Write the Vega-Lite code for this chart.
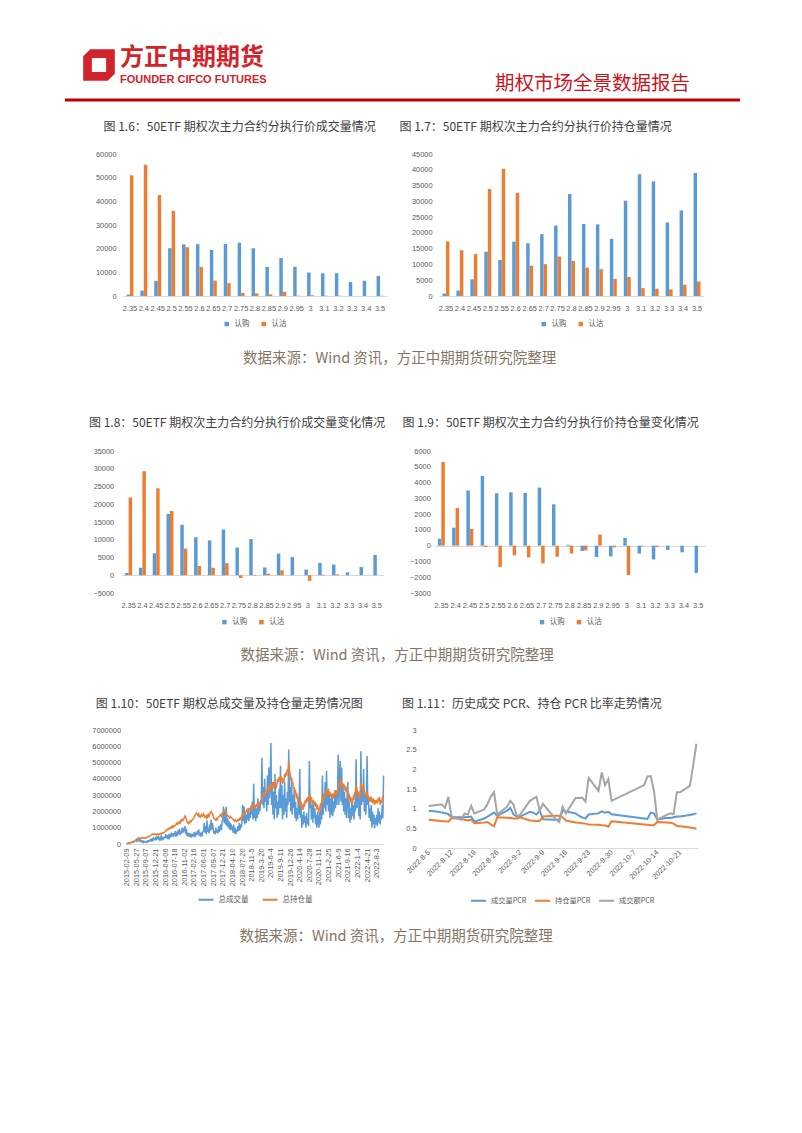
{
"$schema": "https://vega.github.io/schema/vega-lite/v6.json",
"background": "#ffffff",
"padding": {"left": 65, "top": 40, "right": 0, "bottom": 0},
"spacing": 19,
"center": true,
"resolve": {"scale": {"color": "independent"}, "legend": {"color": "independent"}},
"config": {
  "font": "Noto Sans CJK SC",
  "view": {"stroke": null},
  "axis": {"labelFont": "Liberation Sans, Noto Sans CJK SC", "labelFontSize": 7.4, "labelColor": "#595959", "ticks": false, "domain": false, "grid": false, "labelPadding": 7, "labelOverlap": false, "labelFlush": false},
  "legend": {"orient": "bottom", "direction": "horizontal", "title": null, "labelFont": "Noto Sans CJK SC", "labelFontSize": 7.5, "labelColor": "#595959", "columnPadding": 10, "offset": 9, "layout": {"bottom": {"anchor": "middle"}}},
  "title": {"font": "Noto Sans CJK SC", "fontSize": 12, "fontWeight": "normal", "color": "#404040", "anchor": "start"}
},
"vconcat": [
{
  "width": 675, "height": 62,
  "data": {"values": [{"a": "方正中期期货", "b": "FOUNDER CIFCO FUTURES", "c": "期权市场全景数据报告"}]},
  "layer": [
    {"mark": {"type": "rect", "x": "width", "x2": 697, "y": 0, "y2": 1, "opacity": 0}, "encoding": {}},
    {"mark": {"type": "rect", "x": 0, "x2": "width", "y": 58.5, "y2": 61.5, "color": "#C00000"}, "encoding": {}},
    {"mark": {"type": "point", "shape": "M-0.55,-1L1,-1L1,0.55L0.55,1L-1,1L-1,-0.55Z M-0.45,-0.45L-0.45,0.45L0.45,0.45L0.45,-0.45Z", "x": 34, "y": 25, "size": 1000, "filled": true, "color": "#D2232A", "opacity": 1, "strokeWidth": 0}, "encoding": {}},
    {"mark": {"type": "text", "x": 55, "y": 18, "align": "left", "baseline": "middle", "fontSize": 24, "fontWeight": "bold", "color": "#D2232A", "font": "Noto Sans CJK SC"}, "encoding": {"text": {"field": "a"}}},
    {"mark": {"type": "text", "x": 55, "y": 39.5, "align": "left", "baseline": "middle", "fontSize": 11, "fontWeight": "bold", "color": "#D2232A", "font": "Liberation Sans"}, "encoding": {"text": {"field": "b"}}},
    {"mark": {"type": "text", "x": 625, "y": 44, "align": "right", "baseline": "middle", "fontSize": 19.5, "color": "#C8161D", "font": "Noto Sans CJK SC"}, "encoding": {"text": {"field": "c"}}}
  ]
},
{
  "spacing": 12,
  "resolve": {"scale": {"color": "independent"}, "legend": {"color": "independent"}},
  "title": {"text": "数据来源：Wind 资讯，方正中期期货研究院整理", "orient": "bottom", "anchor": "middle", "offset": 23.5, "fontSize": 14.5, "color": "#857564"},
  "hconcat": [
  {
    "title": {"text": "图 1.6：50ETF 期权次主力合约分执行价成交量情况", "dx": 8, "offset": 16},
    "width": 264, "height": 142,
    "data": {"values": [
      {"k":"2.35","认购":600,"认沽":51000},{"k":"2.4","认购":2300,"认沽":55500},{"k":"2.45","认购":6400,"认沽":42700},{"k":"2.5","认购":20200,"认沽":36000},{"k":"2.55","认购":21800,"认沽":20600},{"k":"2.6","认购":21900,"认沽":12300},{"k":"2.65","认购":19500,"认沽":6500},{"k":"2.7","认购":22000,"认沽":5400},{"k":"2.75","认购":22500,"认沽":1300},{"k":"2.8","认购":20200,"认沽":1100},{"k":"2.85","认购":12300,"认沽":700},{"k":"2.9","认购":16000,"认沽":1800},{"k":"2.95","认购":12300,"认沽":100},{"k":"3","认购":9900,"认沽":300},{"k":"3.1","认购":9600,"认沽":100},{"k":"3.2","认购":9600,"认沽":100},{"k":"3.3","认购":5900,"认沽":30},{"k":"3.4","认购":6400,"认沽":30},{"k":"3.5","认购":8500,"认沽":100}
    ]},
    "transform": [{"fold": ["认购","认沽"], "as": ["s","v"]}],
    "mark": {"type": "bar"},
    "encoding": {
      "x": {"field": "k", "type": "ordinal", "sort": null, "scale": {"paddingInner": 0.5, "paddingOuter": 0.25}, "axis": {"title": null, "labelAngle": 0, "domain": true, "domainColor": "#d9d9d9", "labelPadding": 8}},
      "xOffset": {"field": "s", "type": "nominal", "sort": ["认购","认沽"]},
      "y": {"field": "v", "type": "quantitative", "scale": {"domain": [0,60000]}, "axis": {"title": null, "values": [0,10000,20000,30000,40000,50000,60000], "format": "d", "labelPadding": 7}},
      "color": {"field": "s", "type": "nominal", "scale": {"domain": ["认购","认沽"], "range": ["#5B9BD5","#ED7D31"]}, "legend": {"symbolType": "square", "symbolSize": 20, "symbolStrokeWidth": 0, "offset": 8}}
    }
  },
  {
    "title": {"text": "图 1.7：50ETF 期权次主力合约分执行价持仓量情况", "dx": -12, "offset": 16},
    "width": 265, "height": 142,
    "data": {"values": [
      {"k":"2.35","认购":800,"认沽":17300},{"k":"2.4","认购":1700,"认沽":14500},{"k":"2.45","认购":5300,"认沽":13300},{"k":"2.5","认购":14000,"认沽":33900},{"k":"2.55","认购":11400,"认沽":40300},{"k":"2.6","认购":17200,"认沽":32700},{"k":"2.65","认购":16700,"认沽":9600},{"k":"2.7","认购":19600,"认沽":10100},{"k":"2.75","认购":22300,"认沽":12500},{"k":"2.8","认购":32300,"认沽":11100},{"k":"2.85","认购":22800,"认沽":9000},{"k":"2.9","认购":22700,"认沽":8500},{"k":"2.95","认购":18100,"认沽":5400},{"k":"3","认购":30200,"认沽":6000},{"k":"3.1","认购":38600,"认沽":2500},{"k":"3.2","认购":36300,"认沽":2300},{"k":"3.3","认购":23300,"认沽":2100},{"k":"3.4","认购":27100,"认沽":3600},{"k":"3.5","认购":39000,"认沽":4600}
    ]},
    "transform": [{"fold": ["认购","认沽"], "as": ["s","v"]}],
    "mark": {"type": "bar"},
    "encoding": {
      "x": {"field": "k", "type": "ordinal", "sort": null, "scale": {"paddingInner": 0.5, "paddingOuter": 0.25}, "axis": {"title": null, "labelAngle": 0, "domain": true, "domainColor": "#d9d9d9", "labelPadding": 8}},
      "xOffset": {"field": "s", "type": "nominal", "sort": ["认购","认沽"]},
      "y": {"field": "v", "type": "quantitative", "scale": {"domain": [0,45000]}, "axis": {"title": null, "values": [0,5000,10000,15000,20000,25000,30000,35000,40000,45000], "format": "d", "labelPadding": 7}},
      "color": {"field": "s", "type": "nominal", "scale": {"domain": ["认购","认沽"], "range": ["#5B9BD5","#ED7D31"]}, "legend": {"symbolType": "square", "symbolSize": 20, "symbolStrokeWidth": 0, "offset": 8}}
    }
  }
  ]
},
{
  "spacing": 16.6,
  "resolve": {"scale": {"color": "independent"}, "legend": {"color": "independent"}},
  "title": {"text": "数据来源：Wind 资讯，方正中期期货研究院整理", "orient": "bottom", "anchor": "middle", "offset": 23, "fontSize": 14.5, "color": "#857564"},
  "hconcat": [
  {
    "title": {"text": ["", "图 1.8：50ETF 期权次主力合约分执行价成交量变化情况"], "lineHeight": 32.5, "dx": -4, "offset": 17},
    "width": 262, "height": 142,
    "data": {"values": [
      {"k":"2.35","认购":600,"认沽":21900},{"k":"2.4","认购":2100,"认沽":29300},{"k":"2.45","认购":6200,"认沽":24500},{"k":"2.5","认购":17300,"认沽":18100},{"k":"2.55","认购":14200,"认沽":7500},{"k":"2.6","认购":10700,"认沽":2600},{"k":"2.65","认购":9800,"认沽":2100},{"k":"2.7","认购":12900,"认沽":3400},{"k":"2.75","认购":7800,"认沽":-800},{"k":"2.8","认购":10200,"认沽":-150},{"k":"2.85","认购":2200,"认沽":450},{"k":"2.9","认购":6100,"认沽":1400},{"k":"2.95","认购":5100,"认沽":0},{"k":"3","认购":1600,"认沽":-1600},{"k":"3.1","认购":3500,"认沽":150},{"k":"3.2","认购":3000,"认沽":250},{"k":"3.3","认购":800,"认沽":0},{"k":"3.4","认购":2300,"认沽":0},{"k":"3.5","认购":5700,"认沽":0}
    ]},
    "transform": [{"fold": ["认购","认沽"], "as": ["s","v"]}],
    "mark": {"type": "bar"},
    "encoding": {
      "x": {"field": "k", "type": "ordinal", "sort": null, "scale": {"paddingInner": 0.5, "paddingOuter": 0.25}, "axis": {"title": null, "labelAngle": 0, "labelPadding": 8}},
      "xOffset": {"field": "s", "type": "nominal", "sort": ["认购","认沽"]},
      "y": {"field": "v", "type": "quantitative", "scale": {"domain": [-5000,35000]}, "axis": {"title": null, "values": [-5000,0,5000,10000,15000,20000,25000,30000,35000], "format": "d", "labelPadding": 8, "grid": true, "gridColor": "#d9d9d9", "gridOpacity": {"condition": {"test": "datum.value === 0", "value": 1}, "value": 0}}},
      "color": {"field": "s", "type": "nominal", "scale": {"domain": ["认购","认沽"], "range": ["#5B9BD5","#ED7D31"]}, "legend": {"symbolType": "square", "symbolSize": 20, "symbolStrokeWidth": 0}}
    }
  },
  {
    "title": {"text": ["", "图 1.9：50ETF 期权次主力合约分执行价持仓量变化情况"], "lineHeight": 32.5, "dx": -7, "offset": 17},
    "width": 271, "height": 142,
    "data": {"values": [
      {"k":"2.35","认购":440,"认沽":5300},{"k":"2.4","认购":1140,"认沽":2390},{"k":"2.45","认购":3500,"认沽":1060},{"k":"2.5","认购":4420,"认沽":-80},{"k":"2.55","认购":3320,"认沽":-1350},{"k":"2.6","认购":3380,"认沽":-610},{"k":"2.65","认购":3340,"认沽":-740},{"k":"2.7","认购":3680,"认沽":-1120},{"k":"2.75","认购":2620,"认沽":-700},{"k":"2.8","认购":60,"认沽":-500},{"k":"2.85","认购":-340,"认沽":-300},{"k":"2.9","认购":-720,"认沽":700},{"k":"2.95","认购":-680,"认沽":-100},{"k":"3","认购":500,"认沽":-1860},{"k":"3.1","认购":-500,"认沽":-30},{"k":"3.2","认购":-870,"认沽":-80},{"k":"3.3","认购":-270,"认沽":0},{"k":"3.4","认购":-420,"认沽":0},{"k":"3.5","认购":-1730,"认沽":0}
    ]},
    "transform": [{"fold": ["认购","认沽"], "as": ["s","v"]}],
    "mark": {"type": "bar"},
    "encoding": {
      "x": {"field": "k", "type": "ordinal", "sort": null, "scale": {"paddingInner": 0.5, "paddingOuter": 0.25}, "axis": {"title": null, "labelAngle": 0, "labelPadding": 8}},
      "xOffset": {"field": "s", "type": "nominal", "sort": ["认购","认沽"]},
      "y": {"field": "v", "type": "quantitative", "scale": {"domain": [-3000,6000]}, "axis": {"title": null, "values": [-3000,-2000,-1000,0,1000,2000,3000,4000,5000,6000], "format": "d", "labelPadding": 4, "grid": true, "gridColor": "#d9d9d9", "gridOpacity": {"condition": {"test": "datum.value === 0", "value": 1}, "value": 0}}},
      "color": {"field": "s", "type": "nominal", "scale": {"domain": ["认购","认沽"], "range": ["#5B9BD5","#ED7D31"]}, "legend": {"symbolType": "square", "symbolSize": 20, "symbolStrokeWidth": 0}}
    }
  }
  ]
},
{
  "spacing": 14.5,
  "resolve": {"scale": {"color": "independent"}, "legend": {"color": "independent"}},
  "title": {"text": "数据来源：Wind 资讯，方正中期期货研究院整理", "orient": "bottom", "anchor": "middle", "offset": 25, "fontSize": 14.5, "color": "#857564"},
  "hconcat": [
  {
    "title": {"text": ["", "图 1.10：50ETF 期权总成交量及持仓量走势情况图"], "lineHeight": 16, "dx": 4, "offset": 15},
    "width": 257, "height": 114,
    "data": {"values": [
{"i":0,"v":0.02,"o":0.01},{"i":1,"v":0.03,"o":0.02},{"i":2,"v":0.05,"o":0.03},{"i":3,"v":0.04,"o":0.05},{"i":4,"v":0.07,"o":0.06},{"i":5,"v":0.06,"o":0.07},{"i":6,"v":0.09,"o":0.09},{"i":7,"v":0.08,"o":0.1},{"i":8,"v":0.12,"o":0.12},{"i":9,"v":0.1,"o":0.13},{"i":10,"v":0.15,"o":0.15},{"i":11,"v":0.12,"o":0.16},{"i":12,"v":0.18,"o":0.18},{"i":13,"v":0.2,"o":0.2},
{"i":14,"v":0.28,"o":0.22},{"i":15,"v":0.18,"o":0.24},{"i":16,"v":0.3,"o":0.27},{"i":17,"v":0.22,"o":0.25},{"i":18,"v":0.35,"o":0.3},{"i":19,"v":0.2,"o":0.33},{"i":20,"v":0.25,"o":0.36},{"i":21,"v":0.15,"o":0.34},{"i":22,"v":0.2,"o":0.38},{"i":23,"v":0.12,"o":0.4},{"i":24,"v":0.18,"o":0.36},{"i":25,"v":0.1,"o":0.38},{"i":26,"v":0.15,"o":0.35},{"i":27,"v":0.12,"o":0.37},
{"i":28,"v":0.1,"o":0.36},{"i":29,"v":0.16,"o":0.4},{"i":30,"v":0.12,"o":0.42},{"i":31,"v":0.2,"o":0.45},{"i":32,"v":0.15,"o":0.43},{"i":33,"v":0.22,"o":0.48},{"i":34,"v":0.18,"o":0.5},{"i":35,"v":0.26,"o":0.53},{"i":36,"v":0.2,"o":0.55},{"i":37,"v":0.3,"o":0.6},{"i":38,"v":0.22,"o":0.62},{"i":39,"v":0.35,"o":0.58},{"i":40,"v":0.25,"o":0.6},{"i":41,"v":0.3,"o":0.62},
{"i":42,"v":0.38,"o":0.6},{"i":43,"v":0.22,"o":0.55},{"i":44,"v":0.45,"o":0.58},{"i":45,"v":0.28,"o":0.62},{"i":46,"v":0.5,"o":0.6},{"i":47,"v":0.3,"o":0.57},{"i":48,"v":0.25,"o":0.62},{"i":49,"v":0.4,"o":0.65},{"i":50,"v":0.28,"o":0.6},{"i":51,"v":0.45,"o":0.64},{"i":52,"v":0.3,"o":0.68},{"i":53,"v":0.38,"o":0.66},{"i":54,"v":0.32,"o":0.7},{"i":55,"v":0.42,"o":0.72},
{"i":56,"v":0.42,"o":0.75},{"i":57,"v":0.6,"o":0.8},{"i":58,"v":0.35,"o":0.85},{"i":59,"v":0.55,"o":0.9},{"i":60,"v":0.3,"o":0.88},{"i":61,"v":0.5,"o":0.95},{"i":62,"v":0.38,"o":0.92},{"i":63,"v":0.62,"o":1.0},{"i":64,"v":0.4,"o":0.98},{"i":65,"v":0.7,"o":1.05},{"i":66,"v":0.45,"o":1.0},{"i":67,"v":0.65,"o":1.1},{"i":68,"v":0.5,"o":1.05},{"i":69,"v":0.6,"o":1.12},
{"i":70,"v":0.55,"o":1.1},{"i":71,"v":0.8,"o":1.15},{"i":72,"v":0.45,"o":1.2},{"i":73,"v":0.75,"o":1.28},{"i":74,"v":0.5,"o":1.22},{"i":75,"v":0.85,"o":1.3},{"i":76,"v":0.6,"o":1.25},{"i":77,"v":0.95,"o":1.35},{"i":78,"v":0.55,"o":1.3},{"i":79,"v":0.8,"o":1.45},{"i":80,"v":0.65,"o":1.4},{"i":81,"v":1.0,"o":1.5},{"i":82,"v":0.7,"o":1.45},{"i":83,"v":0.9,"o":1.55},
{"i":84,"v":0.85,"o":1.6},{"i":85,"v":1.1,"o":1.72},{"i":86,"v":0.6,"o":1.65},{"i":87,"v":0.95,"o":1.5},{"i":88,"v":0.5,"o":1.35},{"i":89,"v":0.7,"o":1.3},{"i":90,"v":0.45,"o":1.25},{"i":91,"v":0.6,"o":1.35},{"i":92,"v":0.5,"o":1.3},{"i":93,"v":0.65,"o":1.42},{"i":94,"v":0.4,"o":1.38},{"i":95,"v":0.55,"o":1.45},{"i":96,"v":0.5,"o":1.5},{"i":97,"v":0.6,"o":1.55},
{"i":98,"v":0.5,"o":1.6},{"i":99,"v":0.75,"o":1.7},{"i":100,"v":0.45,"o":1.8},{"i":101,"v":0.7,"o":1.85},{"i":102,"v":0.55,"o":1.9},{"i":103,"v":0.8,"o":1.82},{"i":104,"v":0.6,"o":1.75},{"i":105,"v":0.9,"o":1.85},{"i":106,"v":0.5,"o":1.7},{"i":107,"v":0.7,"o":1.65},{"i":108,"v":0.45,"o":1.72},{"i":109,"v":0.65,"o":1.8},{"i":110,"v":0.55,"o":1.7},{"i":111,"v":0.75,"o":1.75},
{"i":112,"v":0.8,"o":1.85},{"i":113,"v":1.3,"o":1.75},{"i":114,"v":0.7,"o":1.65},{"i":115,"v":1.1,"o":1.7},{"i":116,"v":0.6,"o":1.6},{"i":117,"v":1.45,"o":1.75},{"i":118,"v":0.75,"o":1.65},{"i":119,"v":1.0,"o":1.8},{"i":120,"v":0.65,"o":1.7},{"i":121,"v":1.2,"o":1.85},{"i":122,"v":0.8,"o":1.9},{"i":123,"v":1.5,"o":2.0},{"i":124,"v":0.9,"o":1.9},{"i":125,"v":1.3,"o":1.85},
{"i":126,"v":0.9,"o":1.7},{"i":127,"v":0.65,"o":1.6},{"i":128,"v":0.8,"o":1.55},{"i":129,"v":0.6,"o":1.5},{"i":130,"v":1.0,"o":1.45},{"i":131,"v":0.7,"o":1.55},{"i":132,"v":0.85,"o":1.5},{"i":133,"v":0.65,"o":1.6},{"i":134,"v":1.1,"o":1.65},{"i":135,"v":0.75,"o":1.7},{"i":136,"v":0.9,"o":1.75},{"i":137,"v":1.2,"o":1.8},{"i":138,"v":0.85,"o":1.7},{"i":139,"v":1.4,"o":1.85},
{"i":140,"v":1.5,"o":1.9},{"i":141,"v":2.3,"o":2.0},{"i":142,"v":1.3,"o":1.95},{"i":143,"v":1.9,"o":2.05},{"i":144,"v":1.2,"o":1.9},{"i":145,"v":2.3,"o":1.85},{"i":146,"v":1.1,"o":1.8},{"i":147,"v":1.6,"o":1.75},{"i":148,"v":1.0,"o":1.7},{"i":149,"v":1.4,"o":1.65},{"i":150,"v":0.9,"o":1.6},{"i":151,"v":1.3,"o":1.7},{"i":152,"v":0.85,"o":1.65},{"i":153,"v":1.1,"o":1.6},
{"i":154,"v":1.0,"o":1.55},{"i":155,"v":0.7,"o":1.5},{"i":156,"v":1.2,"o":1.45},{"i":157,"v":0.65,"o":1.4},{"i":158,"v":1.0,"o":1.5},{"i":159,"v":0.6,"o":1.45},{"i":160,"v":0.9,"o":1.38},{"i":161,"v":0.75,"o":1.4},{"i":162,"v":1.1,"o":1.5},{"i":163,"v":0.8,"o":1.45},{"i":164,"v":1.3,"o":1.55},{"i":165,"v":0.85,"o":1.5},{"i":166,"v":1.2,"o":1.6},{"i":167,"v":1.0,"o":1.55},
{"i":168,"v":1.5,"o":1.65},{"i":169,"v":2.4,"o":1.8},{"i":170,"v":1.4,"o":1.75},{"i":171,"v":2.3,"o":1.9},{"i":172,"v":1.2,"o":1.85},{"i":173,"v":2.0,"o":1.95},{"i":174,"v":1.3,"o":2.0},{"i":175,"v":1.8,"o":2.1},{"i":176,"v":1.5,"o":1.95},{"i":177,"v":2.2,"o":2.05},{"i":178,"v":1.4,"o":2.15},{"i":179,"v":2.0,"o":2.1},{"i":180,"v":1.6,"o":2.2},{"i":181,"v":2.3,"o":2.3},
{"i":182,"v":1.8,"o":2.2},{"i":183,"v":2.6,"o":2.3},{"i":184,"v":1.5,"o":2.15},{"i":185,"v":3.7,"o":2.4},{"i":186,"v":1.6,"o":2.3},{"i":187,"v":2.4,"o":2.25},{"i":188,"v":1.4,"o":2.35},{"i":189,"v":2.2,"o":2.4},{"i":190,"v":1.6,"o":2.3},{"i":191,"v":2.8,"o":2.45},{"i":192,"v":1.8,"o":2.5},{"i":193,"v":2.5,"o":2.4},{"i":194,"v":2.0,"o":2.55},{"i":195,"v":2.7,"o":2.6},
{"i":196,"v":2.5,"o":2.6},{"i":197,"v":5.3,"o":2.8},{"i":198,"v":2.4,"o":2.95},{"i":199,"v":3.5,"o":3.1},{"i":200,"v":2.2,"o":3.0},{"i":201,"v":4.0,"o":3.2},{"i":202,"v":2.6,"o":3.05},{"i":203,"v":3.2,"o":3.3},{"i":204,"v":2.0,"o":3.15},{"i":205,"v":4.2,"o":3.4},{"i":206,"v":2.4,"o":3.3},{"i":207,"v":4.7,"o":3.55},{"i":208,"v":2.8,"o":3.4},{"i":209,"v":3.6,"o":3.5},
{"i":210,"v":6.2,"o":3.6},{"i":211,"v":2.4,"o":3.3},{"i":212,"v":3.8,"o":3.7},{"i":213,"v":1.8,"o":3.4},{"i":214,"v":3.2,"o":3.8},{"i":215,"v":1.5,"o":3.5},{"i":216,"v":4.3,"o":3.9},{"i":217,"v":2.2,"o":3.6},{"i":218,"v":3.0,"o":3.5},{"i":219,"v":1.6,"o":3.7},{"i":220,"v":2.6,"o":4.0},{"i":221,"v":1.8,"o":3.8},{"i":222,"v":3.4,"o":4.1},{"i":223,"v":2.2,"o":3.9},
{"i":224,"v":4.8,"o":4.2},{"i":225,"v":2.2,"o":3.9},{"i":226,"v":3.6,"o":4.1},{"i":227,"v":1.5,"o":3.7},{"i":228,"v":3.0,"o":4.0},{"i":229,"v":1.8,"o":3.8},{"i":230,"v":3.8,"o":4.3},{"i":231,"v":2.0,"o":4.1},{"i":232,"v":2.8,"o":4.4},{"i":233,"v":1.6,"o":4.2},{"i":234,"v":3.2,"o":4.6},{"i":235,"v":2.4,"o":4.4},{"i":236,"v":5.8,"o":5.1},{"i":237,"v":2.6,"o":4.5},
{"i":238,"v":3.5,"o":4.3},{"i":239,"v":2.0,"o":4.0},{"i":240,"v":4.0,"o":4.1},{"i":241,"v":1.8,"o":3.7},{"i":242,"v":3.0,"o":3.8},{"i":243,"v":2.2,"o":3.4},{"i":244,"v":3.4,"o":3.5},{"i":245,"v":1.6,"o":3.1},{"i":246,"v":2.6,"o":3.2},{"i":247,"v":1.4,"o":2.9},{"i":248,"v":2.2,"o":3.0},{"i":249,"v":1.5,"o":2.7},{"i":250,"v":2.8,"o":2.8},{"i":251,"v":1.8,"o":2.6},
{"i":252,"v":4.6,"o":2.5},{"i":253,"v":1.6,"o":2.3},{"i":254,"v":2.4,"o":2.6},{"i":255,"v":1.0,"o":2.2},{"i":256,"v":1.8,"o":2.4},{"i":257,"v":1.2,"o":2.1},{"i":258,"v":2.0,"o":2.5},{"i":259,"v":1.3,"o":2.3},{"i":260,"v":1.7,"o":2.7},{"i":261,"v":1.0,"o":2.5},{"i":262,"v":1.9,"o":2.8},{"i":263,"v":1.2,"o":2.6},{"i":264,"v":1.6,"o":2.9},{"i":265,"v":1.1,"o":2.7},
{"i":266,"v":5.1,"o":2.8},{"i":267,"v":2.2,"o":3.0},{"i":268,"v":2.8,"o":2.7},{"i":269,"v":1.5,"o":2.9},{"i":270,"v":2.4,"o":2.6},{"i":271,"v":1.3,"o":2.5},{"i":272,"v":2.6,"o":2.7},{"i":273,"v":1.6,"o":2.4},{"i":274,"v":2.2,"o":2.6},{"i":275,"v":1.2,"o":2.3},{"i":276,"v":1.8,"o":2.5},{"i":277,"v":1.0,"o":2.2},{"i":278,"v":2.0,"o":2.3},{"i":279,"v":1.4,"o":2.1},
{"i":280,"v":1.0,"o":2.0},{"i":281,"v":2.0,"o":2.2},{"i":282,"v":1.2,"o":2.4},{"i":283,"v":2.4,"o":2.3},{"i":284,"v":1.5,"o":2.6},{"i":285,"v":4.2,"o":2.8},{"i":286,"v":1.8,"o":2.7},{"i":287,"v":3.0,"o":3.0},{"i":288,"v":2.2,"o":2.9},{"i":289,"v":3.8,"o":3.2},{"i":290,"v":2.0,"o":3.0},{"i":291,"v":4.5,"o":3.3},{"i":292,"v":2.4,"o":3.1},{"i":293,"v":3.2,"o":3.2},
{"i":294,"v":2.0,"o":3.3},{"i":295,"v":3.2,"o":3.0},{"i":296,"v":1.6,"o":3.2},{"i":297,"v":2.8,"o":2.9},{"i":298,"v":1.8,"o":3.1},{"i":299,"v":3.0,"o":2.8},{"i":300,"v":1.7,"o":3.0},{"i":301,"v":2.6,"o":2.9},{"i":302,"v":2.0,"o":3.1},{"i":303,"v":3.3,"o":3.2},{"i":304,"v":2.2,"o":3.0},{"i":305,"v":3.0,"o":3.3},{"i":306,"v":2.4,"o":3.1},{"i":307,"v":3.1,"o":3.2},
{"i":308,"v":5.5,"o":3.4},{"i":309,"v":2.4,"o":3.6},{"i":310,"v":3.8,"o":3.8},{"i":311,"v":5.1,"o":3.9},{"i":312,"v":2.6,"o":3.7},{"i":313,"v":4.7,"o":3.8},{"i":314,"v":2.4,"o":3.6},{"i":315,"v":3.6,"o":3.5},{"i":316,"v":2.0,"o":3.7},{"i":317,"v":3.2,"o":3.4},{"i":318,"v":1.8,"o":3.5},{"i":319,"v":2.8,"o":3.3},{"i":320,"v":1.6,"o":3.4},{"i":321,"v":3.0,"o":3.2},
{"i":322,"v":3.8,"o":3.1},{"i":323,"v":1.6,"o":2.9},{"i":324,"v":2.6,"o":3.0},{"i":325,"v":1.3,"o":2.7},{"i":326,"v":2.2,"o":2.8},{"i":327,"v":1.5,"o":2.5},{"i":328,"v":2.8,"o":2.7},{"i":329,"v":1.7,"o":2.6},{"i":330,"v":2.4,"o":2.9},{"i":331,"v":1.5,"o":2.8},{"i":332,"v":2.6,"o":3.1},{"i":333,"v":2.0,"o":3.2},{"i":334,"v":5.2,"o":3.6},{"i":335,"v":2.2,"o":3.4},
{"i":336,"v":2.4,"o":3.2},{"i":337,"v":3.2,"o":3.0},{"i":338,"v":1.7,"o":3.1},{"i":339,"v":2.8,"o":2.8},{"i":340,"v":1.5,"o":3.0},{"i":341,"v":5.7,"o":3.8},{"i":342,"v":2.4,"o":3.4},{"i":343,"v":3.4,"o":3.6},{"i":344,"v":2.6,"o":3.3},{"i":345,"v":4.6,"o":3.5},{"i":346,"v":2.0,"o":3.2},{"i":347,"v":3.0,"o":3.1},{"i":348,"v":1.8,"o":2.9},{"i":349,"v":2.6,"o":3.0},
{"i":350,"v":5.4,"o":3.2},{"i":351,"v":2.4,"o":3.0},{"i":352,"v":2.8,"o":2.9},{"i":353,"v":1.6,"o":2.7},{"i":354,"v":2.2,"o":2.8},{"i":355,"v":1.4,"o":2.6},{"i":356,"v":2.4,"o":2.9},{"i":357,"v":1.0,"o":2.7},{"i":358,"v":2.0,"o":2.5},{"i":359,"v":1.2,"o":2.8},{"i":360,"v":1.8,"o":2.6},{"i":361,"v":0.95,"o":2.4},{"i":362,"v":1.6,"o":2.7},{"i":363,"v":1.2,"o":2.5},
{"i":364,"v":1.8,"o":2.7},{"i":365,"v":1.1,"o":2.5},{"i":366,"v":2.2,"o":2.8},{"i":367,"v":1.3,"o":2.6},{"i":368,"v":2.0,"o":2.9},{"i":369,"v":1.2,"o":2.4},{"i":370,"v":1.8,"o":2.7},{"i":371,"v":1.5,"o":2.5},{"i":372,"v":2.4,"o":2.8},{"i":373,"v":1.6,"o":2.9},{"i":374,"v":4.2,"o":3.0}
    ]},
    "transform": [{"fold": ["v","o"], "as": ["s","val"]}],
    "mark": {"type": "line", "strokeWidth": 1.5},
    "encoding": {
      "x": {"field": "i", "type": "quantitative", "scale": {"domain": [0,374], "nice": false, "zero": false}, "axis": {"title": null, "values": [0,14,28,42,56,70,84,98,112,126,140,154,168,182,196,210,224,238,252,266,280,294,308,322,336,350,364], "labelExpr": "['2015-02-09','2015-05-27','2015-09-07','2015-12-21','2016-04-06','2016-07-18','2016-11-02','2017-02-16','2017-06-01','2017-09-07','2017-12-21','2018-04-10','2018-07-20','2018-11-5','2019-3-20','2019-6-4','2019-9-11','2019-12-26','2020-4-14','2020-7-28','2020-11-11','2021-2-25','2021-6-9','2021-9-16','2022-1-4','2022-4-21','2022-8-3'][round(datum.value/14)]", "labelAngle": -90, "labelAlign": "right", "labelBaseline": "middle", "domain": true, "domainColor": "#d9d9d9", "labelPadding": 4}},
      "y": {"field": "val", "type": "quantitative", "scale": {"domain": [0,7]}, "axis": {"title": null, "values": [0,1,2,3,4,5,6,7], "labelExpr": "format(datum.value*1000000,'d')", "labelPadding": 6}},
      "color": {"field": "s", "type": "nominal", "sort": ["v","o"], "scale": {"domain": ["v","o"], "range": ["#5B9BD5","#ED7D31"]}, "legend": {"symbolType": "stroke", "symbolSize": 225, "symbolStrokeWidth": 2, "offset": 5, "labelExpr": "datum.label == 'v' ? '总成交量' : '总持仓量'"}}
    }
  },
  {
    "title": {"text": ["", "图 1.11：历史成交 PCR、持仓 PCR 比率走势情况"], "lineHeight": 16, "dx": -3, "offset": 15},
    "width": 271, "height": 118,
    "data": {"values": [
{"d":"2022-08-05","a":0.95,"b":0.72,"c":1.07},{"d":"2022-08-08","a":0.92,"b":0.69,"c":1.1},{"d":"2022-08-09","a":0.9,"b":0.68,"c":1.11},{"d":"2022-08-10","a":0.89,"b":0.68,"c":1.02},{"d":"2022-08-11","a":0.86,"b":0.67,"c":1.3},{"d":"2022-08-12","a":0.78,"b":0.76,"c":0.8},
{"d":"2022-08-15","a":0.78,"b":0.74,"c":0.72},{"d":"2022-08-16","a":0.78,"b":0.72,"c":0.88},{"d":"2022-08-17","a":0.79,"b":0.7,"c":0.85},{"d":"2022-08-18","a":0.8,"b":0.72,"c":1.07},{"d":"2022-08-19","a":0.67,"b":0.63,"c":0.88},
{"d":"2022-08-22","a":0.75,"b":0.65,"c":0.98},{"d":"2022-08-23","a":0.8,"b":0.66,"c":1.12},{"d":"2022-08-24","a":0.85,"b":0.6,"c":1.3},{"d":"2022-08-25","a":0.9,"b":0.55,"c":1.42},{"d":"2022-08-26","a":0.82,"b":0.78,"c":0.85},
{"d":"2022-08-29","a":0.95,"b":0.77,"c":1.05},{"d":"2022-08-30","a":1.02,"b":0.76,"c":1.2},{"d":"2022-08-31","a":0.85,"b":0.75,"c":1.1},{"d":"2022-09-01","a":0.8,"b":0.75,"c":0.8},{"d":"2022-09-02","a":0.8,"b":0.78,"c":0.85},
{"d":"2022-09-05","a":0.92,"b":0.7,"c":1.2},{"d":"2022-09-06","a":0.9,"b":0.69,"c":1.25},{"d":"2022-09-07","a":0.85,"b":0.68,"c":1.3},{"d":"2022-09-08","a":0.95,"b":0.69,"c":0.95},{"d":"2022-09-09","a":0.73,"b":0.8,"c":1.12},
{"d":"2022-09-13","a":0.72,"b":0.82,"c":0.72},{"d":"2022-09-14","a":0.72,"b":0.82,"c":0.66},{"d":"2022-09-15","a":0.95,"b":0.78,"c":1.05},{"d":"2022-09-16","a":0.93,"b":0.7,"c":0.88},
{"d":"2022-09-19","a":0.88,"b":0.65,"c":1.27},{"d":"2022-09-20","a":0.82,"b":0.64,"c":1.27},{"d":"2022-09-21","a":0.78,"b":0.63,"c":1.28},{"d":"2022-09-22","a":0.75,"b":0.62,"c":1.18},{"d":"2022-09-23","a":0.85,"b":0.6,"c":1.78},
{"d":"2022-09-26","a":0.88,"b":0.59,"c":1.45},{"d":"2022-09-27","a":0.93,"b":0.58,"c":1.92},{"d":"2022-09-28","a":0.9,"b":0.57,"c":1.6},{"d":"2022-09-29","a":0.92,"b":0.54,"c":1.75},{"d":"2022-09-30","a":0.86,"b":0.68,"c":1.2},
{"d":"2022-10-10","a":0.75,"b":0.6,"c":1.6},{"d":"2022-10-11","a":0.74,"b":0.59,"c":1.82},{"d":"2022-10-12","a":0.9,"b":0.58,"c":1.83},{"d":"2022-10-13","a":0.88,"b":0.58,"c":1.45},{"d":"2022-10-14","a":0.72,"b":0.66,"c":0.72},
{"d":"2022-10-17","a":0.77,"b":0.65,"c":0.85},{"d":"2022-10-18","a":0.76,"b":0.64,"c":0.88},{"d":"2022-10-19","a":0.78,"b":0.62,"c":0.86},{"d":"2022-10-20","a":0.8,"b":0.56,"c":1.42},{"d":"2022-10-21","a":0.8,"b":0.55,"c":1.42},
{"d":"2022-10-24","a":0.84,"b":0.52,"c":1.58},{"d":"2022-10-25","a":0.86,"b":0.51,"c":2.1},{"d":"2022-10-26","a":0.88,"b":0.49,"c":2.65}
    ]},
    "transform": [{"fold": ["a","b","c"], "as": ["s","val"]}],
    "mark": {"type": "line", "strokeWidth": 2},
    "encoding": {
      "x": {"field": "d", "type": "temporal", "scale": {"type": "utc", "domain": [{"year":2022,"month":8,"date":4,"hours":12,"utc":true},{"year":2022,"month":10,"date":26,"hours":12,"utc":true}]}, "axis": {"title": null, "values": [{"year":2022,"month":8,"date":5,"utc":true},{"year":2022,"month":8,"date":12,"utc":true},{"year":2022,"month":8,"date":19,"utc":true},{"year":2022,"month":8,"date":26,"utc":true},{"year":2022,"month":9,"date":2,"utc":true},{"year":2022,"month":9,"date":9,"utc":true},{"year":2022,"month":9,"date":16,"utc":true},{"year":2022,"month":9,"date":23,"utc":true},{"year":2022,"month":9,"date":30,"utc":true},{"year":2022,"month":10,"date":7,"utc":true},{"year":2022,"month":10,"date":14,"utc":true},{"year":2022,"month":10,"date":21,"utc":true}], "labelExpr": "utcFormat(datum.value, '%Y-%-m-%-d')", "labelAngle": -45, "labelAlign": "right", "labelBaseline": "middle", "domain": true, "domainColor": "#d9d9d9", "labelPadding": 3}},
      "y": {"field": "val", "type": "quantitative", "scale": {"domain": [0,3]}, "axis": {"title": null, "values": [0,0.5,1,1.5,2,2.5,3], "format": "~g", "labelPadding": 11}},
      "color": {"field": "s", "type": "nominal", "sort": ["a","b","c"], "scale": {"domain": ["a","b","c"], "range": ["#5B9BD5","#ED7D31","#A5A5A5"]}, "legend": {"symbolType": "stroke", "symbolSize": 225, "symbolStrokeWidth": 2, "columnPadding": 4, "labelFontSize": 7.2, "offset": 11, "labelExpr": "datum.label == 'a' ? '成交量PCR' : datum.label == 'b' ? '持仓量PCR' : '成交额PCR'"}}
    }
  }
  ]
}
]
}
